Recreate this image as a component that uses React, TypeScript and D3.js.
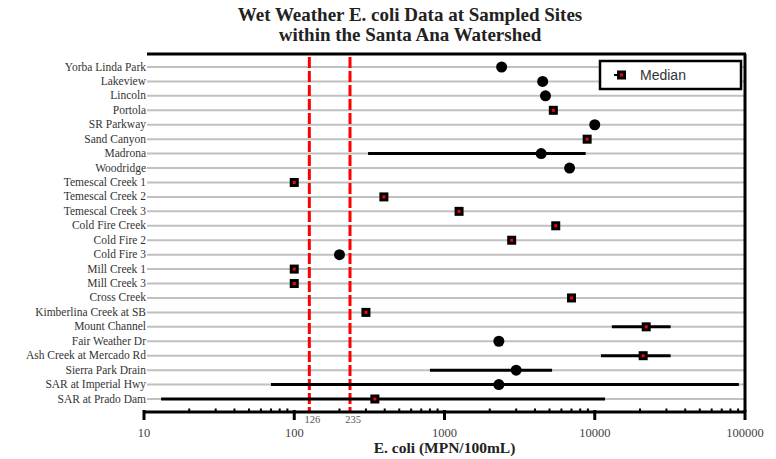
import * as d3 from 'd3';

const sites = [
  'Yorba Linda Park', 'Lakeview', 'Lincoln', 'Portola', 'SR Parkway', 'Sand Canyon',
  'Madrona', 'Woodridge', 'Temescal Creek 1', 'Temescal Creek 2', 'Temescal Creek 3',
  'Cold Fire Creek', 'Cold Fire 2', 'Cold Fire 3', 'Mill Creek 1', 'Mill Creek 3',
  'Cross Creek', 'Kimberlina Creek at SB', 'Mount Channel', 'Fair Weather Dr',
  'Ash Creek at Mercado Rd', 'Sierra Park Drain', 'SAR at Imperial Hwy', 'SAR at Prado Dam',
];
const medians = [
  2400, 4500, 4700, 5300, 10000, 8900, 4400, 6800, 100, 395, 1250, 5500,
  2800, 200, 100, 100, 7000, 300, 22000, 2300, 21000, 3000, 2300, 344,
];
const lows = [
  null, null, null, null, null, null, 310, null, null, null, null, null,
  null, null, null, null, null, null, 13000, null, 11000, 800, 70, 13,
];
const highs = [
  null, null, null, null, null, null, 8700, null, null, null, null, null,
  null, null, null, null, null, null, 32000, null, 32000, 5200, 91000, 11700,
];
// true = square median marker with red centre, false = plain black dot
const redCentre = [
  false, false, false, true, false, true, false, false, true, true, true, true,
  true, false, true, true, true, true, true, false, true, false, false, true,
];
const majorTicks = [10, 100, 1000, 10000, 100000];
const thresholds = [126, 235];

export default function App() {
  const width = 776;
  const height = 459;
  const left = 144;
  const right = 745;
  const top = 54;
  const axisY = 412;

  const x = d3.scaleLog().domain([10, 100000]).range([left, right]);
  const y = d3.scalePoint<string>().domain(sites).range([67, 399]);
  const minorTicks = x.ticks().filter((t) => !majorTicks.includes(t));

  const serif = '"Liberation Serif", "Times New Roman", serif';

  return (
    <svg
      width={width}
      height={height}
      style={{ position: 'absolute', left: 0, top: 0, background: '#fff' }}
      fontFamily={serif}
    >
      {/* title */}
      <text x={410} y={21} textAnchor="middle" fontSize={19} fontWeight="bold" fill="#222">
        Wet Weather E. coli Data at Sampled Sites
      </text>
      <text x={410} y={41} textAnchor="middle" fontSize={19} fontWeight="bold" fill="#222">
        within the Santa Ana Watershed
      </text>

      {/* row grid lines + labels */}
      {sites.map((s) => (
        <g key={s}>
          <line x1={147} x2={right} y1={y(s)} y2={y(s)} stroke="#c0c0c0" strokeWidth={2} />
          <text x={146} y={(y(s) ?? 0) + 3.5} textAnchor="end" fontSize={11.5} fill="#333">
            {s}
          </text>
        </g>
      ))}

      {/* frame */}
      <line x1={147} x2={right + 1} y1={top} y2={top} stroke="#000" strokeWidth={3} />
      <line x1={right} x2={right} y1={top} y2={axisY} stroke="#000" strokeWidth={3} />

      {/* thresholds */}
      {thresholds.map((t) => (
        <g key={t}>
          <line
            x1={x(t)} x2={x(t)} y1={top + 3} y2={axisY}
            stroke="#ff0000" strokeWidth={3} strokeDasharray="11,3"
          />
          <text x={x(t) + 3} y={423} textAnchor="middle" fontSize={10.5} fill="#555">
            {t}
          </text>
        </g>
      ))}

      {/* ranges */}
      {sites.map((s, i) =>
        lows[i] != null ? (
          <line
            key={`r${s}`}
            x1={x(lows[i] as number)} x2={x(highs[i] as number)}
            y1={y(s)} y2={y(s)}
            stroke="#000" strokeWidth={3}
          />
        ) : null,
      )}

      {/* markers */}
      {sites.map((s, i) => {
        const cx = x(medians[i]);
        const cy = y(s) ?? 0;
        return redCentre[i] ? (
          <g key={`m${s}`}>
            <rect x={cx - 4.5} y={cy - 4.5} width={9} height={9} fill="#000" />
            <rect x={cx - 1.5} y={cy - 1.5} width={3} height={3} fill="#ff0000" />
          </g>
        ) : (
          <circle key={`m${s}`} cx={cx} cy={cy} r={5.5} fill="#000" />
        );
      })}

      {/* x axis */}
      <line x1={left} x2={right} y1={axisY} y2={axisY} stroke="#000" strokeWidth={3} />
      {minorTicks.map((t) => (
        <line key={`mt${t}`} x1={x(t)} x2={x(t)} y1={axisY - 3.5} y2={axisY} stroke="#000" strokeWidth={2} />
      ))}
      {majorTicks.map((t) => (
        <g key={`t${t}`}>
          <line x1={x(t)} x2={x(t)} y1={axisY - 2} y2={axisY + 8} stroke="#000" strokeWidth={3} />
          <text x={x(t)} y={437} textAnchor="middle" fontSize={12.5} fill="#444">
            {t}
          </text>
        </g>
      ))}
      <text x={(left + right) / 2} y={453} textAnchor="middle" fontSize={15.5} fontWeight="bold" fill="#222">
        E. coli (MPN/100mL)
      </text>

      {/* legend */}
      <rect x={600} y={61} width={141} height={28} fill="#fff" stroke="#000" strokeWidth={2.5} />
      <line x1={614} x2={622} y1={75} y2={75} stroke="#000" strokeWidth={2} />
      <rect x={617} y={70.5} width={9} height={9} fill="#000" />
      <rect x={620} y={73.5} width={3} height={3} fill="#ff0000" />
      <text x={640} y={80} fontSize={14} fill="#333" fontFamily="Arial, 'Liberation Sans', sans-serif">
        Median
      </text>
    </svg>
  );
}
